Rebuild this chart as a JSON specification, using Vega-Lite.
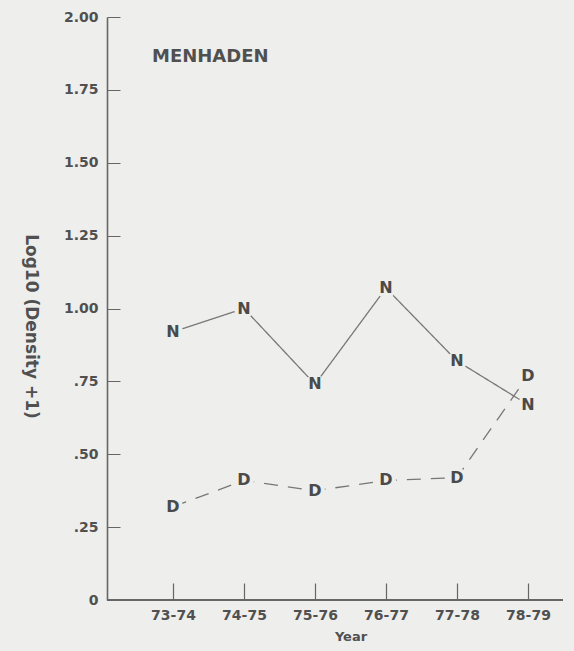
{
  "$schema": "https://vega.github.io/schema/vega-lite/v6.json",
  "width": 456,
  "height": 583,
  "autosize": {"type": "none"},
  "padding": {"left": 107, "top": 17, "right": 11, "bottom": 51},
  "background": "#eeeeec",
  "config": {
    "view": {"stroke": null},
    "font": "DejaVu Sans",
    "axis": {"domainColor": "#666", "tickColor": "#666", "labelColor": "#505050", "titleColor": "#505050", "labelFontWeight": "bold", "titleFontWeight": "bold", "grid": false}
  },
  "title": {"text": "MENHADEN", "anchor": "start", "frame": "group", "orient": "top", "offset": -56, "dx": 45, "fontSize": 18, "fontWeight": "bold", "color": "#505050"},
  "data": {"values": [
    {"year": "73-74", "series": "N", "value": 0.92},
    {"year": "74-75", "series": "N", "value": 1.0},
    {"year": "75-76", "series": "N", "value": 0.74},
    {"year": "76-77", "series": "N", "value": 1.07},
    {"year": "77-78", "series": "N", "value": 0.82},
    {"year": "78-79", "series": "N", "value": 0.67},
    {"year": "73-74", "series": "D", "value": 0.32},
    {"year": "74-75", "series": "D", "value": 0.41},
    {"year": "75-76", "series": "D", "value": 0.375},
    {"year": "76-77", "series": "D", "value": 0.41},
    {"year": "77-78", "series": "D", "value": 0.42},
    {"year": "78-79", "series": "D", "value": 0.77}
  ]},
  "layer": [
    {"mark": {"type": "rule", "color": "#666", "strokeWidth": 1.2},
     "encoding": {"y": {"datum": 0, "type": "quantitative"}}},
    {
      "encoding": {
        "x": {"field": "year", "type": "ordinal", "sort": null,
          "scale": {"type": "point", "range": [66, 421], "padding": 0},
          "axis": {"title": "Year", "domain": false, "labelAngle": 0, "tickSize": -17, "labelPadding": 25, "labelFontSize": 14, "titleFontSize": 13, "titlePadding": 8, "tickWidth": 1.2}},
        "y": {"field": "value", "type": "quantitative",
          "scale": {"domain": [0, 2], "nice": false, "zero": true},
          "axis": {"title": "Log10 (Density +1)", "values": [0, 0.25, 0.5, 0.75, 1, 1.25, 1.5, 1.75, 2],
            "labelExpr": "datum.value == 0 ? '0' : (datum.value < 1 ? substring(format(datum.value, '.2f'), 1) : format(datum.value, '.2f'))",
            "tickSize": -13, "labelPadding": 22, "labelFontSize": 14, "titleFontSize": 17, "titleAngle": 90, "titleBaseline": "middle", "titleX": -77, "titleY": 309, "domainWidth": 1.6, "tickWidth": 1}}
      },
      "layer": [
        {"mark": {"type": "line", "color": "#777", "strokeWidth": 1.3},
         "encoding": {"strokeDash": {"field": "series", "type": "nominal", "scale": {"domain": ["N", "D"], "range": [[1, 0], [14, 10]]}, "legend": null}, "detail": {"field": "series"}}},
        {"mark": {"type": "point", "shape": "circle", "filled": true, "color": "#eeeeec", "opacity": 1, "size": 400}},
        {"mark": {"type": "text", "fontSize": 16, "fontWeight": "bold", "color": "#4a4a4a"},
         "encoding": {"text": {"field": "series"}}}
      ]
    }
  ]
}
